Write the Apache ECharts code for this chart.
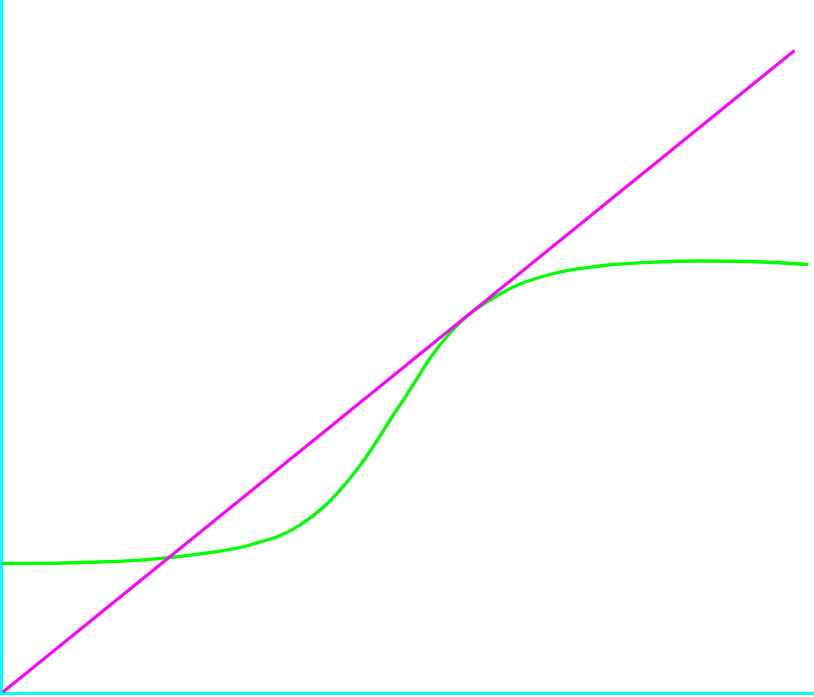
<!DOCTYPE html>
<html>
<head>
<meta charset="utf-8">
<script src="https://cdn.jsdelivr.net/npm/echarts@6/dist/echarts.min.js"></script>
<style>html,body{margin:0;padding:0;background:#fff;}#c{width:814px;height:697px;}</style>
</head>
<body>
<div id="c"></div>
<script>
// Curve (green) sample points
const curveX = [0.5, 48.5, 98.5, 148.5, 198.5, 248.5, 298.5, 348.5, 398.5, 448.5, 498.5, 548.5, 598.5, 648.5, 698.5, 748.5, 806.5];
const curveY = [130.2, 130.4, 131.7, 134.4, 139.9, 148.7, 168.7, 215.2, 288.7, 360.7, 399.7, 419.2, 427.7, 431.4, 432.7, 432.2, 429.2];
// Straight line (magenta) end points
const lineX = [1.5, 793];
const lineY = [1.7, 643.2];

const chart = echarts.init(document.getElementById('c'));
const axisCommon = {
  type: 'value',
  splitLine: {show: false},
  axisTick: {show: false},
  axisLabel: {show: false},
  axisLine: {show: true, onZero: false, lineStyle: {color: '#00ffff', width: 3}}
};
chart.setOption({
  animation: false,
  backgroundColor: '#ffffff',
  grid: {left: 1.5, right: 0, top: 0, bottom: 3.3, containLabel: false},
  xAxis: Object.assign({}, axisCommon, {min: 0, max: 812.5}),
  yAxis: Object.assign({}, axisCommon, {min: 0, max: 693.7}),
  series: [
    {
      type: 'line',
      data: curveX.map((x, i) => [x, curveY[i]]),
      smooth: 0.4,
      showSymbol: false,
      lineStyle: {color: '#00ff00', width: 3.3},
      z: 2
    },
    {
      type: 'line',
      data: lineX.map((x, i) => [x, lineY[i]]),
      showSymbol: false,
      lineStyle: {color: '#ff00ff', width: 3},
      z: 3
    }
  ]
});
</script>
</body>
</html>
